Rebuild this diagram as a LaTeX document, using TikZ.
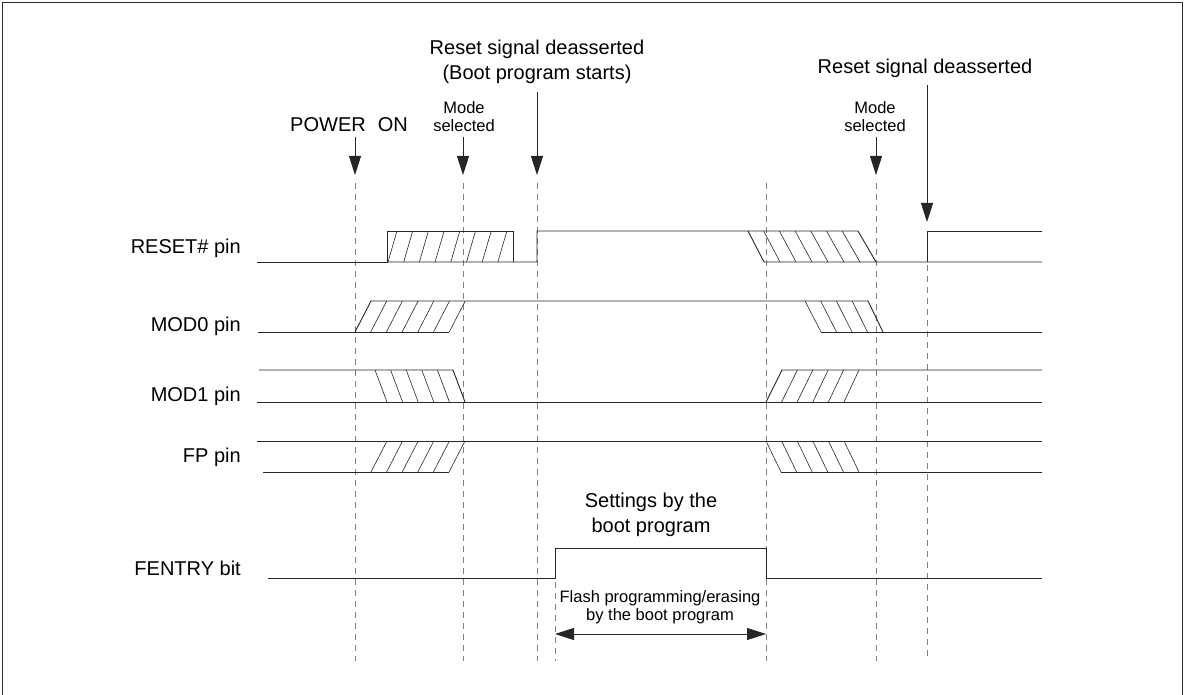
\documentclass[tikz,border=0pt]{standalone}
\usepackage{fontspec}
\setmainfont{Liberation Sans}
\usepackage{tikz}
\usepackage{xcolor}
\usetikzlibrary{arrows.meta,positioning,calc}
\definecolor{trace}    {HTML}{262626}
\definecolor{guidegray}{HTML}{808080}
\definecolor{frameink} {HTML}{2B2B2B}
\tikzset{
  sigline/.style={draw=trace,line width=0.9pt},
  hatchline/.style={draw=trace,line width=0.6pt},
  marker/.style={draw=guidegray,line width=0.9pt,dash pattern=on 6pt off 5pt},
  evarrow/.style={draw=trace,line width=0.9pt,-{Triangle[width=12pt,length=19pt]}},
  spanarrow/.style={draw=trace,line width=0.9pt,
    {Triangle[width=12pt,length=19pt]}-{Triangle[width=12pt,length=19pt]}},
  pinlabel/.style={anchor=base east,inner sep=0pt,font=\fontsize{20}{25}\selectfont},
  note/.style={anchor=base,align=center,inner sep=0pt,font=\fontsize{20}{25}\selectfont},
  smallnote/.style={anchor=base,align=center,inner sep=0pt,font=\fontsize{16.5}{18}\selectfont},
}

\begin{document}
\begin{tikzpicture}[x=1pt,y=-1pt]
  \useasboundingbox (0,0) rectangle (1187,695);
  \draw[draw=frameink,line width=1.4pt] (2.5,695) -- (2.5,2.5) -- (1182.5,2.5) -- (1182.5,695);

  % event instants
  \coordinate (tpwr)   at (355,175);
  \coordinate (tmode)  at (463,175);
  \coordinate (trst)   at (537,175);
  \coordinate (tmodeb) at (876,175);
  \coordinate (trstb)  at (927,222);
  \coordinate (fentl)  at (555,634);
  \coordinate (fentr)  at (766,634);

  % dashed time markers
  \foreach \x in {355,463,537,766,876} \draw[marker] (\x,183) -- (\x,661);
  \draw[marker] (555,582) -- (555,661);
  \draw[marker] (927,265) -- (927,661);

  % pin names
  \node[pinlabel] (lrst)  at (241,254) {RESET\# pin};
  \node[pinlabel] (lmod0) at (241,331) {MOD0 pin};
  \node[pinlabel] (lmod1) at (241,401) {MOD1 pin};
  \node[pinlabel] (lfp)   at (241,462) {FP pin};
  \node[pinlabel] (lfent) at (241,575) {FENTRY bit};

  % RESET#
  \draw[sigline] (257,262) -- (387,262) -- (387,231) -- (513,231) -- (513,262);
  \draw[sigline] (387,262) -- (537,262) -- (537,231) -- (858,231) -- (876,262);
  \draw[sigline] (748,231) -- (764,262) -- (1042,262);
  \draw[sigline] (927,262) -- (927,231) -- (1042,231);
  \foreach \k in {0,...,7} \draw[hatchline] (388+15.7*\k,262) -- (397+15.7*\k,231);
  \foreach \k in {1,...,6} \draw[hatchline] (748+15.7*\k,231) -- (764+16*\k,262);

  % MOD0
  \draw[sigline] (258,332) -- (449,332);
  \draw[sigline] (355,332) -- (371,301) -- (868,301) -- (883,332);
  \draw[sigline] (821,332) -- (1042,332);
  \foreach \k in {1,...,6} \draw[hatchline] (355+15.7*\k,332) -- (371+15.7*\k,301);
  \foreach \k in {0,...,3} \draw[hatchline] (805+15.7*\k,301) -- (821+15.5*\k,332);

  % MOD1
  \draw[sigline] (257,402) -- (1042,402);
  \draw[sigline] (259,370) -- (453,370) -- (465,402);
  \draw[sigline] (766,402) -- (782,370) -- (1042,370);
  \foreach \k in {0,...,4} \draw[hatchline] (375+15.6*\k,370) -- (387+15.6*\k,402);
  \foreach \k in {1,...,5} \draw[hatchline] (766+15.6*\k,402) -- (782+15.4*\k,370);

  % FP
  \draw[sigline] (257,441) -- (1042,441);
  \draw[sigline] (263,472) -- (449,472);
  \draw[sigline] (781,472) -- (1042,472);
  \foreach \k in {0,...,5} \draw[hatchline] (371+15.6*\k,472) -- (387+15.6*\k,441);
  \foreach \k in {0,...,5} \draw[hatchline] (766+15.6*\k,441) -- (781+15.6*\k,472);

  % FENTRY
  \draw[sigline] (268,578) -- (555,578) -- (555,548) -- (766,548) -- (766,578) -- (1042,578);

  % annotations (base = last line)
  \node[note]      (rstnote)   at (537,80)  {Reset signal deasserted\\(Boot program starts)};
  \node[note]      (rstnoteb)  at (925,74)  {Reset signal deasserted};
  \node[note]      (pwrnote)   at (349,132) {POWER\hspace{0.6em}ON};
  \node[smallnote] (modenote)  at (464,132) {Mode\\selected};
  \node[smallnote] (modenoteb) at (875,132) {Mode\\selected};
  \node[note]      (setnote)   at (651,532) {Settings by the\\boot program};
  \node[smallnote] (flashnote) at (660,620) {Flash programming/erasing\\by the boot program};

  \draw[evarrow,shorten <=5pt] (pwrnote.south -| tpwr) -- (tpwr);
  \draw[evarrow,shorten <=5pt] (modenote.south -| tmode) -- (tmode);
  \draw[evarrow,shorten <=8pt] (rstnote.south -| trst) -- (trst);
  \draw[evarrow,shorten <=5pt] (modenoteb.south -| tmodeb) -- (tmodeb);
  \draw[evarrow,shorten <=7pt] (rstnoteb.south -| trstb) -- (trstb);
  \draw[spanarrow] (fentl) -- (fentr);
\end{tikzpicture}
\end{document}
